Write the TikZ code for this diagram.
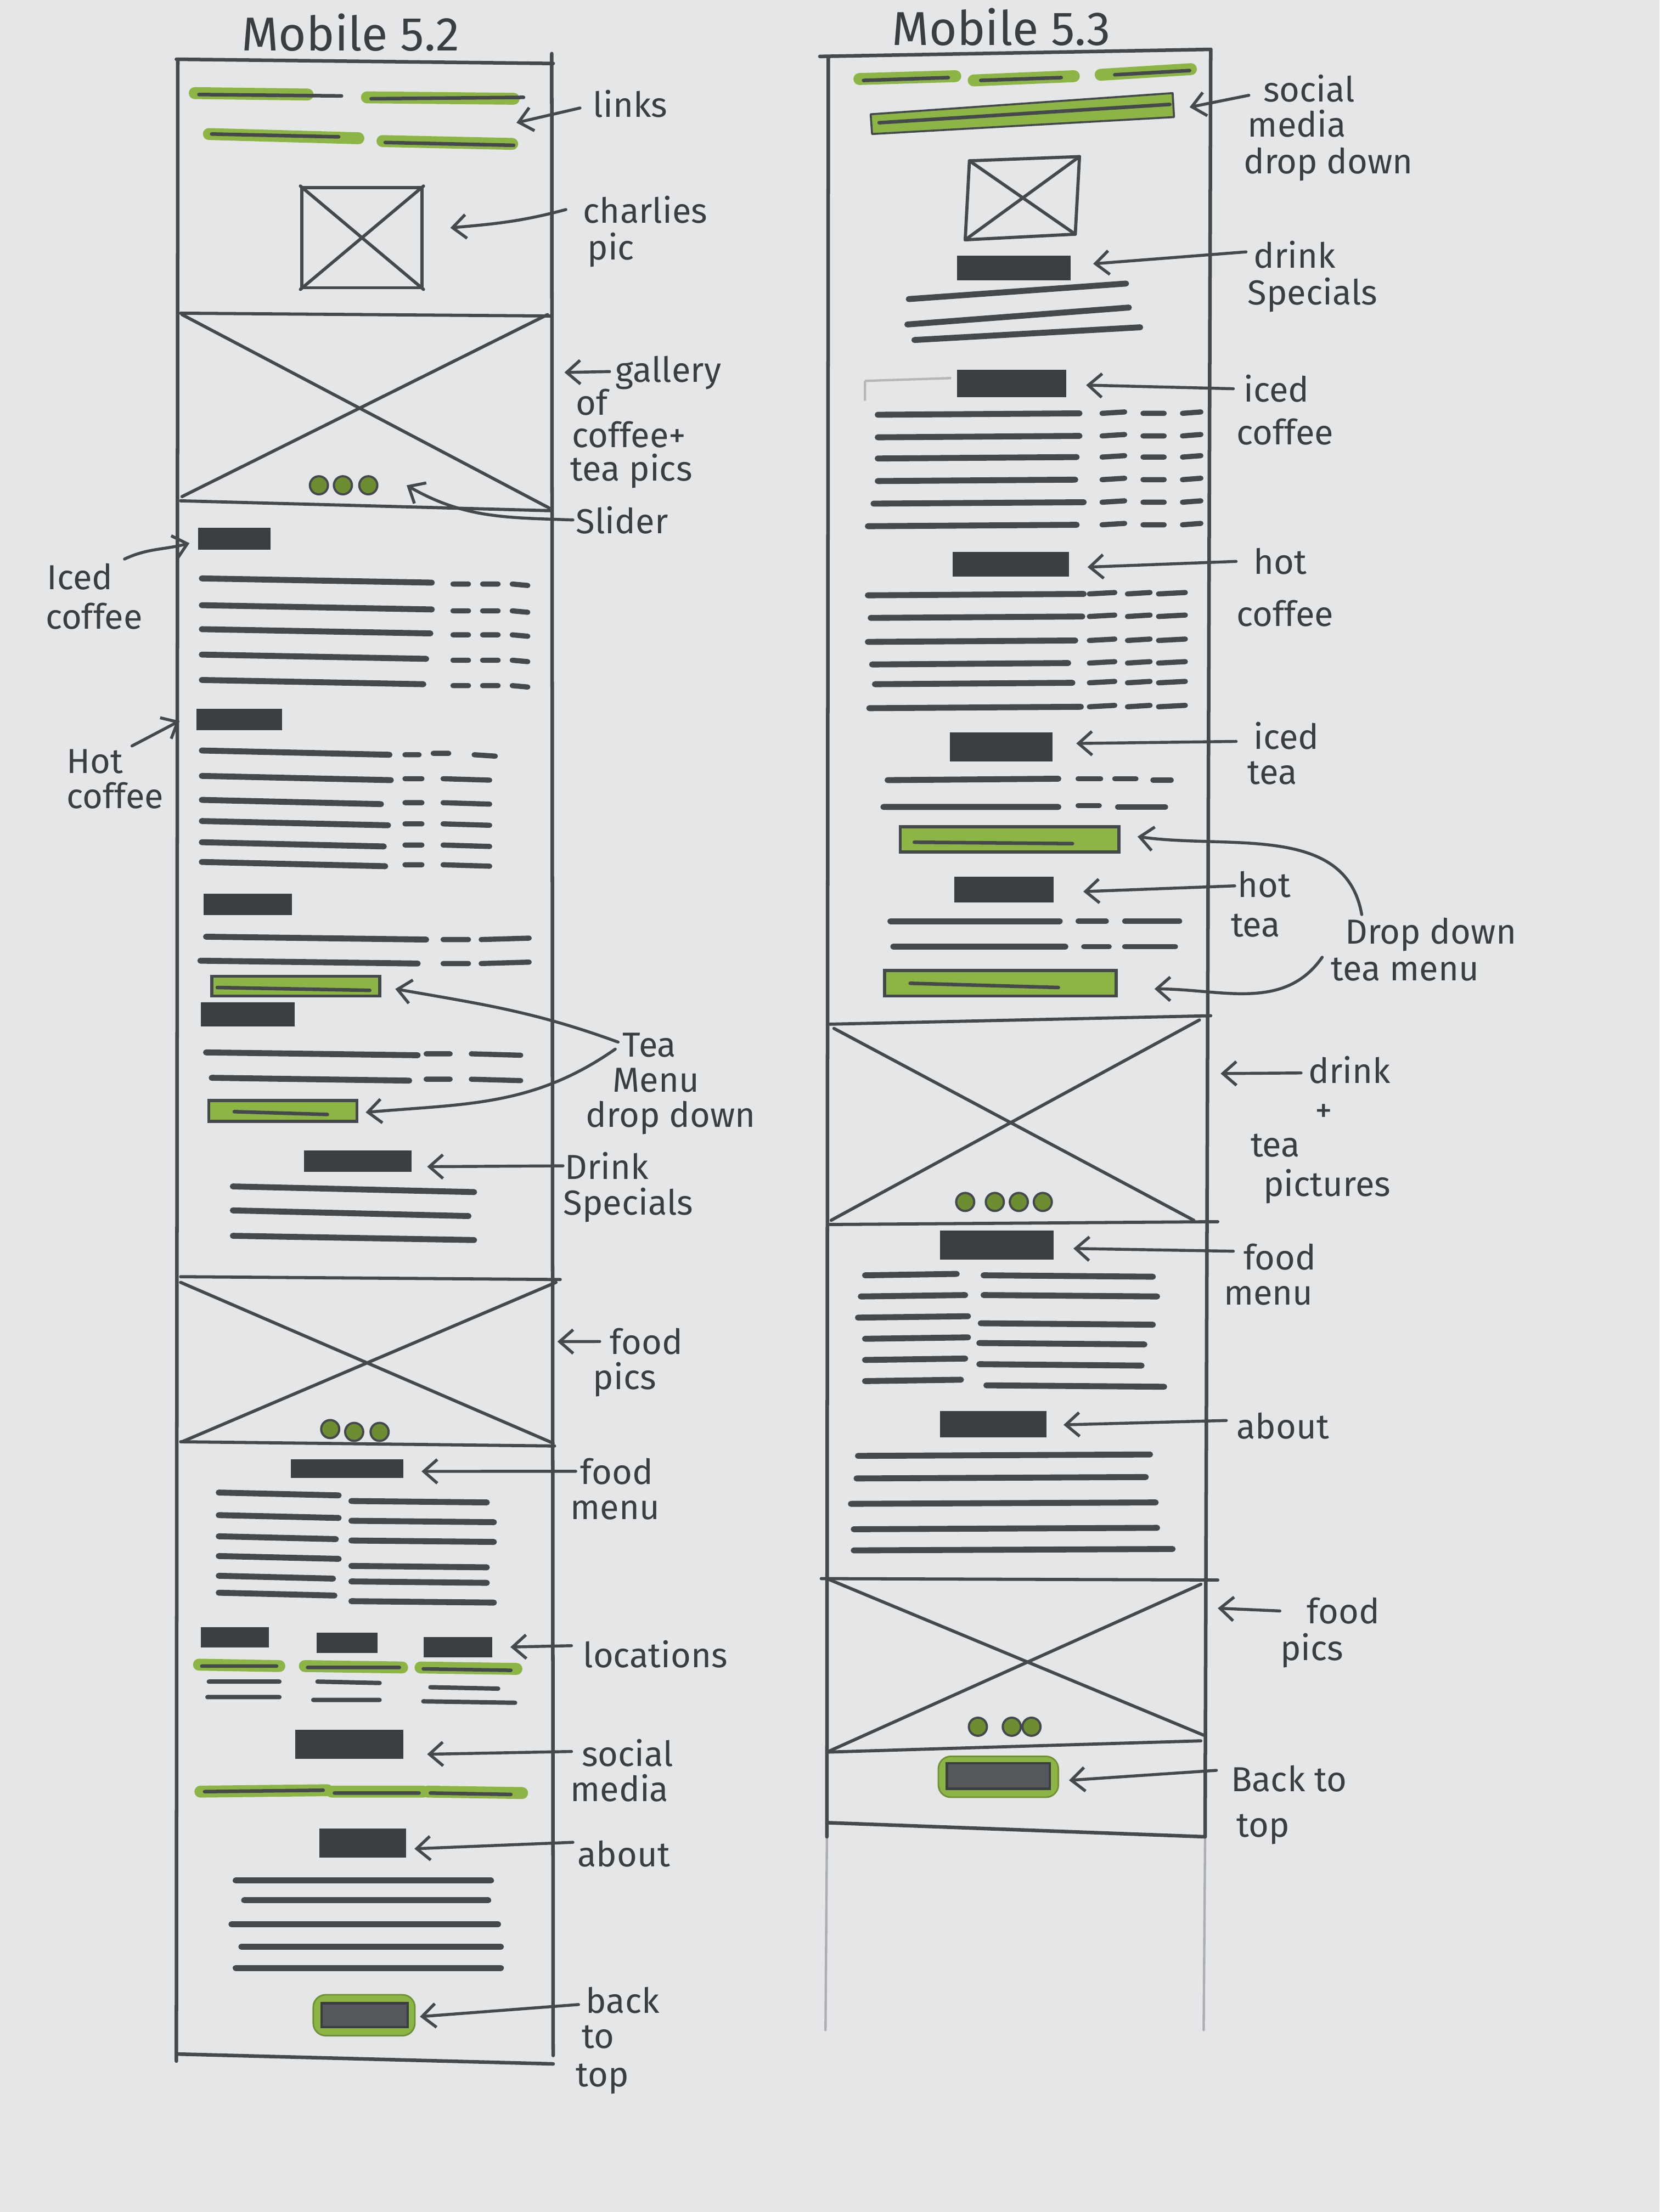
\documentclass[tikz,border=0pt]{standalone}
\usepackage{fontspec}
\setmainfont{Fira Sans}
\usetikzlibrary{arrows.meta,calc,fit}

\definecolor{paper}{HTML}{E4E6E8}
\definecolor{pencil}{HTML}{45484C}
\definecolor{ink}{HTML}{3A3D41}
\definecolor{blockc}{HTML}{3C3F42}
\definecolor{leaf}{HTML}{8DB545}
\definecolor{leafdk}{HTML}{6D8E30}
\definecolor{btnfill}{HTML}{55585C}

\tikzset{
  wfframe/.style={draw=pencil, line width=1.8pt, line cap=round},
  xline/.style={draw=pencil, line width=1.6pt, line cap=round, line join=round},
  txt/.style={draw=pencil, line width=3pt, line cap=round},
  dsh/.style={draw=pencil, line width=2.6pt, line cap=round},
  fineline/.style={draw=pencil, line width=2.2pt, line cap=round},
  blk/.style={rectangle, fill=blockc, draw=blockc, line width=1pt, inner sep=0pt},
  hl/.style={draw=leaf, line width=6pt, line cap=round},
  hlcore/.style={draw=pencil, line width=1.8pt, line cap=round},
  ddbar/.style={rectangle, fill=leaf, draw=pencil, line width=1.6pt, inner sep=0pt},
  sdot/.style={circle, fill=leafdk, draw=pencil, line width=1.1pt, minimum size=3.2mm, inner sep=0pt},
  btn/.style={rectangle, fill=leaf, draw=leaf!80!black, line width=0.8pt, rounded corners=2.2mm, inner sep=0pt},
  btncore/.style={rectangle, fill=btnfill, draw=blockc, line width=1.2pt, inner sep=0pt},
  lbl/.style={font=\fontsize{17.5}{19}\selectfont, text=ink, inner sep=0pt, anchor=base west},
  ttl/.style={font=\fontsize{24}{26}\selectfont, text=ink, inner sep=0pt, anchor=base west},
  arr/.style={draw=pencil, line width=1.5pt, line cap=round, -{Straight Barb[length=2.4mm,width=4.2mm]}},
}

\begin{document}
\begin{tikzpicture}[x=0.25mm,y=-0.25mm]
\path[use as bounding box, fill=paper] (0,0) rectangle (1176,1568);

% ================= Mobile 5.2 =================
\node[ttl] (titleL) at (171,36) {Mobile 5.2};
\draw[wfframe] (125,42) -- (392,45);
\draw[wfframe] (126,42) -- (125,1461);
\draw[wfframe] (391,38) -- (392,1457);
\draw[wfframe] (125,1456) -- (392,1463);

% nav links
\draw[hl] (138,66) -- (218,67) (260,69) -- (364,70) (148,95) -- (254,98) (271,100) -- (363,102);
\draw[hlcore] (141,67) -- (242,68) (263,70) -- (371,69) (150,95) -- (240,97) (273,101) -- (364,103);
\coordinate (linksTip) at (366,87);
\node[lbl] (linksL) at (420,83) {links};
\draw[arr] ($(linksL.west)+(-9,3)$) -- (linksTip);

% portrait
\node[fit={(214,133)(299,204)}, inner sep=0pt, draw=pencil, line width=1.6pt] (charlie) {};
\draw[xline] (charlie.north west) -- (charlie.south east) (charlie.north east) -- (charlie.south west);
\node[lbl] (charA) at (413,158) {charlies};
\node[lbl] (charB) at (416,184) {pic};
\draw[arr] ($(charA.west)+(-12,0)$) to[out=195,in=5] ($(charlie.east)+(19,-7)$);

% coffee / tea gallery
\draw[xline] (128,222) -- (391,224);
\draw[xline] (129,223) -- (389,360) (388,223) -- (129,352);
\draw[xline] (128,355) -- (390,362);
\foreach \i/\x in {1/226,2/243,3/261} \node[sdot] (sdA\i) at (\x,344) {};
\node[lbl] (galA) at (436,271) {gallery};
\coordinate (galTip) at (400,264);
\draw[arr] ($(galA.west)+(-4,-1)$) -- (galTip);
\node[lbl] (galB) at (408,294) {of};
\node[lbl] (galC) at (405,317) {coffee+};
\node[lbl] (galD) at (404,341) {tea pics};
\node[lbl] (sliderL) at (408,378) {Slider};
\draw[arr] ($(sliderL.west)+(-2,0)$) to[out=178,in=-30] ($(sdA3.east)+(20,0)$);

% iced coffee
\node[blk, fit={(141,375)(191,389)}] (icbL) {};
\node[lbl] (icedA) at (33,418) {Iced};
\node[lbl] (icedB) at (32,446) {coffee};
\draw[arr] ($(icedA.north east)+(8,-3)$) to[out=25,in=195] ($(icbL.west)+(-6,3)$);
\foreach \y/\e in {410/306,429/306,446/305,464/302,482/300}{
  \draw[txt] (143,\y) -- (\e,\y+3);
  \draw[dsh] (321,\y+4) -- (332,\y+4) (342,\y+4) -- (353,\y+4) (363,\y+4) -- (374,\y+5);
}

% hot coffee
\node[blk, fit={(140,503)(199,517)}] (hcbL) {};
\node[lbl] (hotA) at (47,548) {Hot};
\node[lbl] (hotB) at (47,573) {coffee};
\draw[arr] ($(hotA.north east)+(6,-2)$) -- ($(hcbL.west)+(-12,1)$);
\draw[txt] (143,532) -- (276,535);
\draw[dsh] (287,535) -- (297,535) (307,534) -- (318,534) (336,535) -- (351,536);
\foreach \y/\e in {550/277,567/270,582/275,597/272,611/273}{
  \draw[txt] (143,\y) -- (\e,\y+3);
  \draw[dsh] (287,\y+2) -- (299,\y+2) (314,\y+2) -- (347,\y+3);
}

% iced tea
\node[blk, fit={(145,634)(206,648)}] (itbL) {};
\foreach \y/\s/\e in {664/146/302,681/142/296}{
  \draw[txt] (\s,\y) -- (\e,\y+2);
  \draw[dsh] (314,\y+2) -- (332,\y+2) (341,\y+2) -- (375,\y+1);
}
\node[ddbar, fit={(150,692)(269,706)}] (tddA) {};
\draw[hlcore] (154,700) -- (262,702);

% hot tea
\node[blk, fit={(143,711)(208,727)}] (htbL) {};
\foreach \y/\s/\e in {746/146/296,764/150/290}{
  \draw[txt] (\s,\y) -- (\e,\y+2);
  \draw[dsh] (302,\y+1) -- (319,\y+1) (334,\y+1) -- (369,\y+2);
}
\node[ddbar, fit={(148,780)(253,795)}] (tddB) {};
\draw[hlcore] (166,788) -- (232,790);
\node[lbl] (teaA) at (441,749) {Tea};
\node[lbl] (teaB) at (434,774) {Menu};
\node[lbl] (teaC) at (415,799) {drop down};
\draw[arr] ($(teaA.west)+(-3,-2)$) to[out=160,in=-10] ($(tddA.east)+(10,2)$);
\draw[arr] ($(teaA.west)+(-5,3)$) to[out=215,in=5] ($(tddB.east)+(5,1)$);

% drink specials
\node[blk, fit={(216,816)(291,830)}] (dsbL) {};
\node[lbl] (drA) at (400,836) {Drink};
\node[lbl] (drB) at (399,861) {Specials};
\draw[arr] ($(drA.west)+(-1,0)$) -- ($(dsbL.east)+(11,4)$);
\draw[txt] (165,841) -- (336,845) (165,858) -- (332,862) (165,876) -- (336,879);

% food gallery
\draw[xline] (128,905) -- (397,907);
\draw[xline] (128,909) -- (392,1023) (394,909) -- (129,1022);
\draw[xline] (128,1022) -- (393,1025);
\foreach \i/\x/\y in {1/234/1013,2/251/1015,3/269/1015} \node[sdot] (sdB\i) at (\x,\y) {};
\node[lbl] (fpA) at (432,960) {food};
\node[lbl] (fpB) at (420,985) {pics};
\coordinate (fpTipL) at (395,951);
\draw[arr] ($(fpA.west)+(-7,0)$) -- (fpTipL);

% food menu
\node[blk, fit={(207,1035)(285,1047)}] (fmbL) {};
\node[lbl] (fmA) at (411,1052) {food};
\node[lbl] (fmB) at (404,1077) {menu};
\draw[arr] ($(fmA.west)+(-3,0)$) -- ($(fmbL.east)+(13,2)$);
\foreach \y/\e in {1058/240,1074/240,1089/238,1103/240,1117/236,1129/237} \draw[txt] (155,\y) -- (\e,\y+2);
\foreach \y/\e in {1064/345,1078/350,1092/350,1110/345,1121/345,1135/350} \draw[txt] (249,\y) -- (\e,\y+1);

% locations
\node[blk, fit={(143,1154)(190,1167)}] (locA) {};
\node[blk, fit={(225,1158)(267,1171)}] (locB) {};
\node[blk, fit={(301,1161)(348,1174)}] (locC) {};
\draw[hl] (141,1180) -- (198,1181) (216,1181) -- (285,1182) (298,1182) -- (366,1183);
\draw[hlcore] (143,1181) -- (196,1181) (218,1182) -- (283,1182) (300,1183) -- (362,1184);
\draw[fineline] (148,1192) -- (198,1192) (147,1203) -- (198,1203) (225,1192) -- (269,1193)
  (222,1205) -- (269,1205) (305,1196) -- (353,1197) (300,1206) -- (365,1207);
\node[lbl] (locL) at (413,1182) {locations};
\draw[arr] ($(locL.west)+(-8,-6)$) -- ($(locC.east)+(13,0)$);

% social media
\node[blk, fit={(210,1227)(285,1246)}] (smbL) {};
\draw[hl] (142,1270) -- (232,1269) (235,1270) -- (300,1270) (303,1270) -- (370,1271);
\draw[hlcore] (145,1270) -- (229,1269) (237,1271) -- (297,1271) (305,1271) -- (362,1272);
\node[lbl] (smA) at (412,1252) {social};
\node[lbl] (smB) at (404,1277) {media};
\draw[arr] ($(smA.west)+(-7,-1)$) -- ($(smbL.east)+(17,7)$);

% about
\node[blk, fit={(227,1297)(287,1316)}] (abL) {};
\node[lbl] (abLbl) at (409,1323) {about};
\draw[arr] ($(abLbl.west)+(-3,-8)$) -- ($(abL.east)+(6,4)$);
\foreach \y/\s/\e in {1333/167/348,1347/173/346,1364/164/353,1380/171/355,1395/167/355} \draw[txt] (\s,\y) -- (\e,\y);

% back to top
\node[btn, fit={(222,1414)(294,1443)}] (bttL) {};
\node[btncore, fit={(228,1420)(289,1437)}] (bttLc) {};
\node[lbl] (bkA) at (415,1427) {back};
\node[lbl] (bkB) at (412,1452) {to};
\node[lbl] (bkC) at (408,1479) {top};
\draw[arr] ($(bkA.west)+(-5,3)$) -- ($(bttL.east)+(3,1)$);

% ================= Mobile 5.3 =================
\node[ttl] (titleR) at (632,32) {Mobile 5.3};
\draw[wfframe] (581,40) -- (858,35);
\draw[wfframe] (587,40) -- (586,1302);
\draw[wfframe] (858,35) -- (854,1302);
\draw[wfframe] (586,1292) -- (854,1302);
\draw[wfframe, draw opacity=0.35, line width=1.2pt] (586,1302) -- (585,1439) (854,1302) -- (853,1439);

% social links and drop down
\draw[hl] (609,56) -- (677,54) (690,57) -- (761,54) (780,53) -- (844,49);
\draw[hlcore] (612,57) -- (672,55) (695,57) -- (752,55) (790,53) -- (843,50);
\path[fill=leaf, draw=pencil, line width=1pt, line join=round] (617,81) -- (831,66) -- (832,83) -- (618,95) -- cycle;
\draw[hlcore] (623,87) -- (829,74);
\coordinate (sddTip) at (843,76);
\node[lbl] (sdA) at (895,72) {social};
\node[lbl] (sdB) at (884,97) {media};
\node[lbl] (sdC) at (881,123) {drop down};
\draw[arr] ($(sdA.west)+(-10,5)$) -- (sddTip);

% picture
\draw[xline] (687,114) -- (765,111) -- (762,166) -- (684,170) -- cycle;
\draw[xline] (687,114) -- (762,166) (765,111) -- (684,170);

% drink specials
\node[blk, fit={(679,182)(758,198)}] (dsbR) {};
\node[lbl] (dsA) at (888,190) {drink};
\node[lbl] (dsB) at (884,216) {Specials};
\draw[arr] ($(dsA.west)+(-5,-2)$) -- ($(dsbR.east)+(16,-3)$);
\draw[txt] (644,212) -- (798,201) (643,230) -- (800,218) (648,241) -- (808,232);

% iced coffee
\node[blk, fit={(679,263)(755,281)}] (icbR) {};
\draw[pencil!40, line width=1.2pt] (613,270) -- (674,268) (613,270) -- (613,284);
\node[lbl] (icR1) at (881,285) {iced};
\node[lbl] (icR2) at (876,315) {coffee};
\draw[arr] ($(icR1.west)+(-7,0)$) -- ($(icbR.east)+(14,1)$);
\foreach \y/\s/\e in {294/622/765,310/622/765,325/622/763,341/622/762,357/619/768,373/615/763}{
  \draw[txt] (\s,\y) -- (\e,\y-1);
  \draw[dsh] (781,\y-1) -- (797,\y-2) (810,\y-1) -- (825,\y-1) (838,\y-1) -- (851,\y-2);
}

% hot coffee
\node[blk, fit={(676,392)(757,408)}] (hcbR) {};
\node[lbl] (hcR1) at (888,407) {hot};
\node[lbl] (hcR2) at (876,444) {coffee};
\draw[arr] ($(hcR1.west)+(-12,0)$) -- ($(hcbR.east)+(13,2)$);
\foreach \y/\s/\e in {422/615/768,438/617/767,455/615/762,471/618/757,485/620/760,502/616/766}{
  \draw[txt] (\s,\y) -- (\e,\y-1);
  \draw[dsh] (772,\y-1) -- (790,\y-2) (799,\y-1) -- (815,\y-2) (821,\y-1) -- (840,\y-2);
}

% iced tea
\node[blk, fit={(674,520)(745,539)}] (itbR) {};
\node[lbl] (itR1) at (888,531) {iced};
\node[lbl] (itR2) at (884,556) {tea};
\draw[arr] ($(itR1.west)+(-12,4)$) -- ($(itbR.east)+(17,-2.5)$);
\draw[txt] (629,553) -- (750,552) (626,572) -- (750,572);
\draw[dsh] (764,552) -- (780,552) (790,552) -- (805,552) (817,553) -- (830,553)
  (764,571) -- (779,571) (792,572) -- (826,572);
\node[ddbar, fit={(638,586)(793,604)}] (tddC) {};
\draw[hlcore] (648,597) -- (760,598);

% hot tea
\node[blk, fit={(677,622)(746,639)}] (htbR) {};
\node[lbl] (htR1) at (877,636) {hot};
\node[lbl] (htR2) at (872,664) {tea};
\draw[arr] ($(htR1.west)+(-2,1)$) -- ($(htbR.east)+(21,1.5)$);
\draw[txt] (631,653) -- (751,653) (633,671) -- (755,671);
\draw[dsh] (764,653) -- (784,653) (797,653) -- (836,653) (768,671) -- (786,671) (797,671) -- (833,671);
\node[ddbar, fit={(627,688)(791,706)}] (tddD) {};
\draw[hlcore] (645,697) -- (750,700);
\node[lbl] (dropA) at (953,669) {Drop down};
\node[lbl] (dropB) at (943,695) {tea menu};
\draw[arr] ($(dropA.north west)+(12,-2)$) to[out=100,in=-8] ($(tddC.east)+(12,-2)$);
\draw[arr] ($(dropB.north west)+(-6,0)$) to[out=235,in=0] ($(tddD.east)+(26,4)$);

% drink and tea gallery
\draw[xline] (588,726) -- (858,720);
\draw[xline] (591,729) -- (846,865) (850,723) -- (589,865);
\draw[xline] (588,868) -- (863,866);
\foreach \i/\x in {1/684,2/705,3/722,4/739} \node[sdot] (sdC\i) at (\x,852) {};
\node[lbl] (dtA) at (927,768) {drink};
\node[lbl, anchor=center] (dtB) at (938,789) {+};
\node[lbl] (dtC) at (886,820) {tea};
\node[lbl] (dtD) at (895,848) {pictures};
\coordinate (dtTip) at (865,761);
\draw[arr] ($(dtA.west)+(-5,2)$) -- (dtTip);

% food menu
\node[blk, fit={(667,873)(746,892)}] (fmbR) {};
\node[lbl] (fmR1) at (881,900) {food};
\node[lbl] (fmR2) at (867,925) {menu};
\draw[arr] ($(fmR1.west)+(-7,-4)$) -- ($(fmbR.east)+(14,2.5)$);
\foreach \y/\s/\e in {904/613/678,919/610/684,934/608/686,949/613/686,964/613/684,979/613/681} \draw[txt] (\s,\y) -- (\e,\y-1);
\foreach \y/\s/\e in {904/697/817,918/697/820,938/695/817,952/694/811,967/694/809,982/699/825} \draw[txt] (\s,\y) -- (\e,\y+1);

% about
\node[blk, fit={(667,1001)(741,1018)}] (abR) {};
\node[lbl] (abRl) at (876,1020) {about};
\draw[arr] ($(abRl.west)+(-7,-4)$) -- ($(abR.east)+(12,0.5)$);
\foreach \y/\s/\e in {1032/608/815,1048/607/812,1066/603/819,1084/605/820,1099/605/831} \draw[txt] (\s,\y) -- (\e,\y-1);

% food gallery
\draw[xline] (582,1119) -- (863,1120);
\draw[xline] (586,1119) -- (853,1230) (851,1123) -- (586,1242);
\draw[xline] (586,1242) -- (851,1234);
\foreach \i/\x in {1/693,2/717,3/731} \node[sdot] (sdD\i) at (\x,1224) {};
\node[lbl] (fpR1) at (926,1151) {food};
\node[lbl] (fpR2) at (907,1177) {pics};
\coordinate (fpTipR) at (863,1140);
\draw[arr] ($(fpR1.west)+(-19,0)$) -- (fpTipR);

% back to top
\node[btn, fit={(665,1245)(750,1274)}] (bttR) {};
\node[btncore, fit={(671,1250)(744,1268)}] (bttRc) {};
\node[lbl] (btR1) at (872,1270) {Back to};
\node[lbl] (btR2) at (876,1302) {top};
\draw[arr] ($(btR1.west)+(-10,-6)$) -- ($(bttR.east)+(7,2.5)$);

\end{tikzpicture}
\end{document}
